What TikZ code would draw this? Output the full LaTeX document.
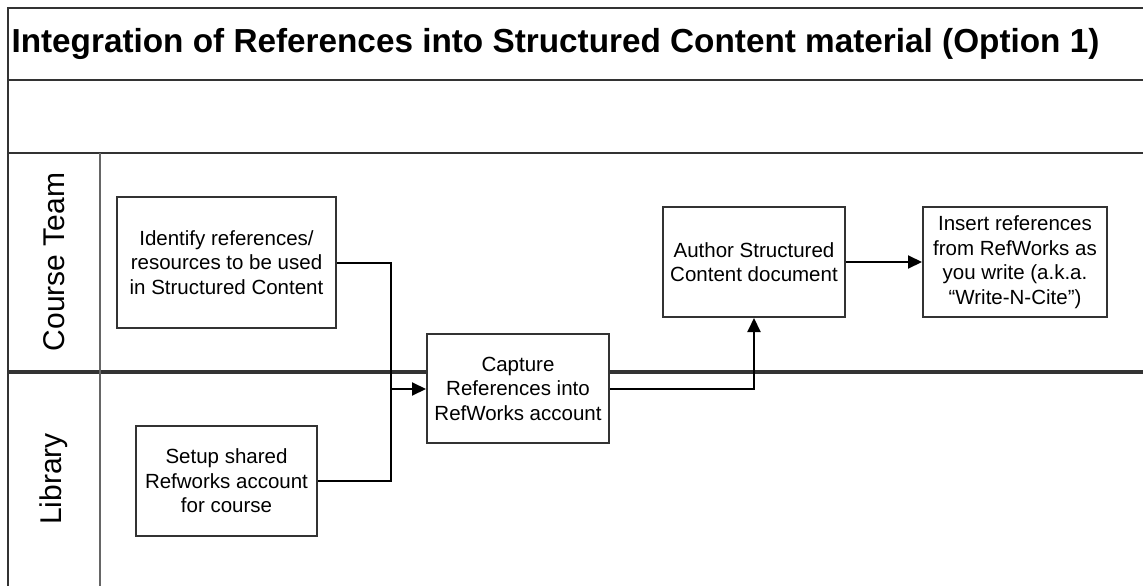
\documentclass[tikz,border=0pt]{standalone}
\usepackage{fontspec}
\setmainfont{Liberation Sans}
\usetikzlibrary{arrows.meta}
\definecolor{linegray}{HTML}{333333}
\tikzset{
  procbox/.style={draw=linegray,line width=2pt,fill=white,inner sep=0pt,align=center,
    font=\fontsize{20.5}{24.5}\selectfont},
  flow/.style={draw=black,line width=2pt,-{Triangle[length=14pt,width=13pt]}},
  link/.style={draw=black,line width=2pt},
  lane/.style={draw=linegray,line width=2.8pt},
  lanelabel/.style={rotate=90,font=\fontsize{30}{36}\selectfont}
}
\begin{document}
\begin{tikzpicture}[x=1pt,y=-1pt]
    \useasboundingbox (0,0) rectangle (1143,586);
    \draw[lane] (8,586)--(8,8)--(1143,8);
    \draw[lane] (8,80)--(1143,80);
    \draw[lane] (8,153)--(1143,153);
    \draw[lane,line width=3.2pt] (8,372)--(1143,372);
    \draw[draw=gray!80!black,line width=2.2pt] (100,153)--(100,586);
    \node[anchor=west,font=\bfseries\fontsize{33.3}{40}\selectfont] (title) at (8,44) {Integration of References into Structured Content material (Option 1)};
    \node[lanelabel] (team) at (54,262) {Course Team};
    \node[lanelabel] (library) at (54,479) {Library};

    \node[procbox,minimum width=219pt,minimum height=131pt] (ident) at (226.5,262.5) {Identify references/\\resources to be used\\in Structured Content};
    \node[procbox,minimum width=181pt,minimum height=110pt] (setup) at (226.5,481) {Setup shared\\Refworks account\\for course};
    \node[procbox,minimum width=182pt,minimum height=109pt] (capture) at (518,388.5) {Capture\\References into\\RefWorks account};
    \node[procbox,minimum width=182pt,minimum height=110pt] (author) at (754,262) {Author Structured\\Content document};
    \node[procbox,minimum width=184pt,minimum height=110pt] (insert) at (1015,262) {Insert references\\from RefWorks as\\you write (a.k.a.\\``Write-N-Cite'')};
    \coordinate (merge) at (390.5,389);

    \draw[link] (ident.east) -| (merge);
    \draw[link] (setup.east) -| (merge);
    \draw[flow] (merge) -- (merge -| capture.west);
    \draw[flow] (capture.east) -| (author.south);
    \draw[flow] (author) -- (insert);
\end{tikzpicture}
\end{document}
